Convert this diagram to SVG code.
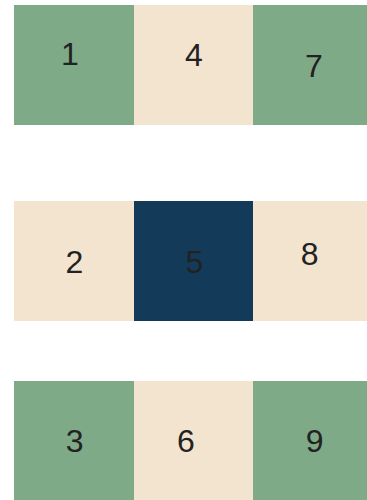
<svg xmlns="http://www.w3.org/2000/svg" width="367" height="500" viewBox="0 0 367 500">
<style>
.g{fill:#7faa87}
.b{fill:#f3e4cf}
.n{fill:#133a58}
text{font-family:"Liberation Sans",Arial,sans-serif;font-size:32px;fill:#222222;text-anchor:middle}
</style>
<rect width="367" height="500" fill="#ffffff"/>
<g id="node1"><rect class="g" x="14" y="5" width="120" height="120"/><text x="70" y="65">1</text></g>
<g id="node4"><rect class="b" x="134" y="5" width="119" height="120"/><text x="194" y="65.5">4</text></g>
<g id="node7"><rect class="g" x="253" y="5" width="114" height="120"/><text x="314" y="76.5">7</text></g>
<g id="node2"><rect class="b" x="14" y="201" width="120" height="120"/><text x="74.5" y="273">2</text></g>
<g id="node5"><rect class="n" x="134" y="201" width="119" height="120"/><text x="194.5" y="273.3">5</text></g>
<g id="node8"><rect class="b" x="253" y="201" width="114" height="120"/><text x="309.7" y="265">8</text></g>
<g id="node3"><rect class="g" x="14" y="381" width="120" height="119"/><text x="74.7" y="452">3</text></g>
<g id="node6"><rect class="b" x="134" y="381" width="119" height="119"/><text x="186" y="452">6</text></g>
<g id="node9"><rect class="g" x="253" y="381" width="114" height="119"/><text x="314.7" y="452">9</text></g>
<g id="connectors"></g>
</svg>
